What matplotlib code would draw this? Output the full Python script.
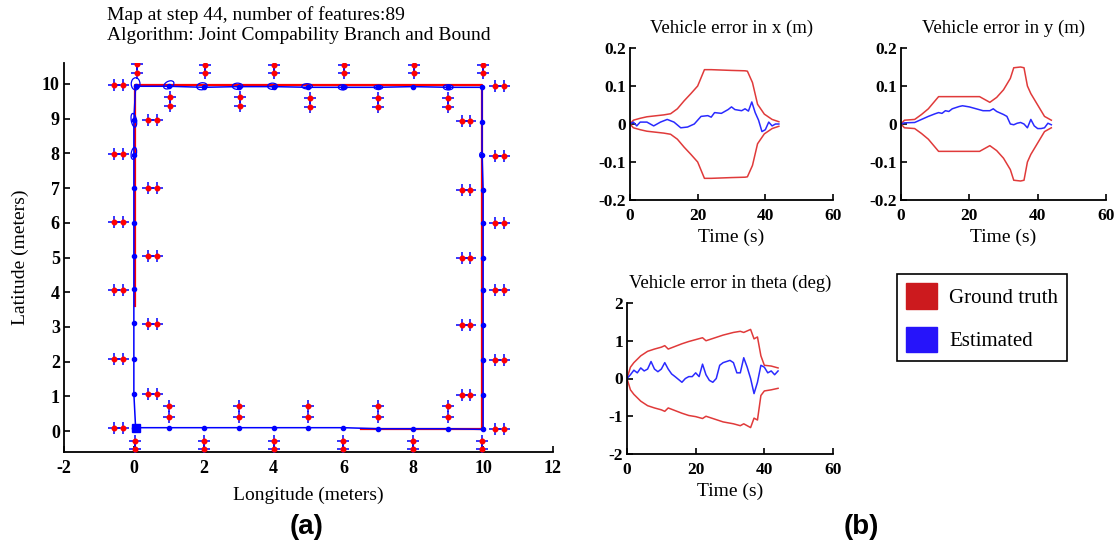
import matplotlib
matplotlib.use("Agg")
import matplotlib.pyplot as plt
from matplotlib.patches import Ellipse, Patch

plt.rcParams["font.family"] = ["Liberation Serif", "DejaVu Serif"]
plt.rcParams["axes.unicode_minus"] = False

RED = "#e03a3a"
BLUE = "#2a2aff"

# vehicle poses (estimated path)
pose_x = [0, 1, 2, 3, 4, 5, 6, 7, 8, 9, 10,
          10, 10, 10, 10, 10, 10, 10, 9.97, 9.97, 9.97,
          9, 8, 7, 6, 5, 4, 3, 2, 1, 0.05,
          0, 0, 0, 0, 0, 0, 0, 0, 0, 0.05]
pose_y = [0.1, 0.1, 0.1, 0.1, 0.1, 0.1, 0.1, 0.07, 0.07, 0.07, 0.05,
          1.05, 2.05, 3.05, 4.05, 5.0, 6.0, 6.95, 7.95, 8.9, 9.9,
          9.9, 9.92, 9.9, 9.9, 9.9, 9.92, 9.92, 9.9, 9.93, 9.93,
          8.95, 7.95, 7.0, 6.0, 5.05, 4.08, 3.1, 2.08, 1.08, 0.1]

# ground-truth trail
true_x = [6.5, 9.98, 9.98, 0.02, 0.02]
true_y = [0.07, 0.07, 9.97, 9.97, 3.6]

# landmarks
lm_x = [0.08, 0.08, 2.05, 2.05, 4.0, 4.0, 6.03, 6.03, 8.03, 8.03, 10.0, 10.0,
        1.03, 1.03, 3.03, 3.03, 5.05, 5.05, 7.0, 7.0, 9.0, 9.0,
        -0.57, -0.3, -0.57, -0.3, -0.57, -0.3, -0.57, -0.3, -0.57, -0.3, -0.57, -0.3,
        0.4, 0.65, 0.4, 0.65, 0.4, 0.65, 0.4, 0.65, 0.4, 0.65,
        9.4, 9.62, 9.4, 9.62, 9.4, 9.62, 9.4, 9.62, 9.4, 9.62,
        10.33, 10.6, 10.33, 10.6, 10.33, 10.6, 10.33, 10.6, 10.33, 10.6, 10.33, 10.6,
        1.0, 1.0, 3.0, 3.0, 5.0, 5.0, 7.0, 7.0, 9.0, 9.0,
        0.02, 0.02, 2.0, 2.0, 4.0, 4.0, 6.0, 6.0, 8.0, 8.0, 9.98, 9.98]
lm_y = [10.57, 10.32, 10.55, 10.3, 10.55, 10.3, 10.55, 10.3, 10.55, 10.3, 10.55, 10.3,
        9.62, 9.35, 9.62, 9.35, 9.6, 9.32, 9.6, 9.32, 9.6, 9.32,
        9.98, 9.98, 7.98, 7.98, 6.02, 6.02, 4.05, 4.05, 2.08, 2.08, 0.1, 0.1,
        8.95, 8.95, 7.0, 7.0, 5.05, 5.05, 3.08, 3.08, 1.08, 1.08,
        8.92, 8.92, 6.95, 6.95, 5.0, 5.0, 3.05, 3.05, 1.05, 1.05,
        9.95, 9.95, 7.92, 7.92, 5.98, 5.98, 4.05, 4.05, 2.05, 2.05, 0.05, 0.05,
        0.72, 0.42, 0.72, 0.42, 0.72, 0.42, 0.72, 0.42, 0.72, 0.42,
        -0.27, -0.5, -0.27, -0.5, -0.27, -0.5, -0.27, -0.5, -0.27, -0.5, -0.27, -0.5]

# pose covariance ellipses (x, y, width, height, angle)
ell_x = [0.05, 1.0, 1.95, 2.97, 3.97, 4.96, 5.98, 7.0, 9.0, 0.0, 0.0, 9.95]
ell_y = [10.0, 9.97, 9.93, 9.93, 9.93, 9.93, 9.9, 9.9, 9.9, 8.95, 8.0, 7.95]
ell_w = [0.25, 0.32, 0.3, 0.3, 0.28, 0.3, 0.25, 0.25, 0.28, 0.15, 0.15, 0.1]
ell_h = [0.35, 0.2, 0.2, 0.18, 0.18, 0.15, 0.15, 0.12, 0.15, 0.4, 0.35, 0.15]
ell_a = [0, 30, 10, 0, 0, 0, 0, 0, 0, 10, -10, 0]

# vehicle error in x
tx = [0, 1, 3, 5, 10, 12, 14, 16, 18, 20, 22, 24, 30, 34, 34.7, 36.2, 37.7, 39.7, 42, 44]
bx = [0, 0.01, 0.015, 0.019, 0.024, 0.027, 0.04, 0.061, 0.08, 0.1, 0.143, 0.143, 0.141,
      0.14, 0.139, 0.109, 0.052, 0.026, 0.012, 0.006]
tex = [0, 1, 2, 3, 5, 7, 9, 11, 13, 15, 17, 19, 21, 23, 24, 25, 27, 29, 30, 31, 33, 34,
       35, 36, 37, 38, 39, 40, 41, 42, 43, 44]
ex = [0, 0.005, -0.005, 0.005, 0.005, -0.005, 0.005, 0.012, 0.005, -0.01, -0.008, 0.0,
      0.02, 0.022, 0.018, 0.03, 0.028, 0.038, 0.045, 0.038, 0.035, 0.04, 0.034, 0.058,
      0.03, 0.01, -0.02, -0.015, 0.005, -0.005, 0.0, 0.0]

# vehicle error in y
ty = [0, 1, 4, 6, 8, 11, 23, 26, 28, 30, 32, 33, 35, 36, 37, 38, 40, 42, 44]
by = [0, 0.01, 0.012, 0.025, 0.04, 0.072, 0.072, 0.057, 0.07, 0.09, 0.12, 0.148,
      0.15, 0.148, 0.1, 0.08, 0.05, 0.02, 0.01]
tey = [0, 1, 4, 6, 8, 10, 11, 12, 13, 14, 15, 17, 18, 20, 22, 24, 26, 27, 28, 30, 31,
       32, 33, 34, 35, 36, 37, 38, 39, 40, 41, 42, 43, 44]
ey = [0, 0.003, 0.004, 0.012, 0.02, 0.027, 0.03, 0.028, 0.035, 0.033, 0.04, 0.046,
      0.048, 0.045, 0.04, 0.035, 0.035, 0.04, 0.033, 0.025, 0.02, 0.0, -0.002, 0.002,
      0.004, 0.0, -0.01, 0.012, -0.005, -0.012, -0.012, -0.01, 0.002, -0.002]

# vehicle error in theta
tt = [0, 1, 2, 4, 6, 8, 10, 11, 12, 14, 16, 18, 20, 22, 23, 25, 28, 31, 33, 34, 36,
      37, 38, 39, 40, 42, 44]
bt_hi = [0, 0.3, 0.42, 0.6, 0.72, 0.78, 0.83, 0.87, 0.78, 0.85, 0.92, 0.98, 1.03, 1.08,
         1.0, 1.06, 1.15, 1.22, 1.25, 1.22, 1.3, 1.05, 1.1, 0.6, 0.35, 0.33, 0.28]
bt_lo = [0, -0.3, -0.42, -0.6, -0.72, -0.78, -0.83, -0.87, -0.78, -0.85, -0.92, -0.98,
         -1.01, -1.06, -1.0, -1.06, -1.15, -1.2, -1.25, -1.2, -1.3, -1.05, -1.1, -0.45,
         -0.33, -0.3, -0.26]
tet = [0, 1, 2, 3, 4, 5, 6, 7, 8, 9, 10, 11, 12, 13, 14, 16, 17, 18, 19, 20, 21, 22, 23,
       24, 25, 26, 27, 28, 30, 31, 32, 33, 34, 35, 36, 37, 38, 39, 40, 41, 42, 43, 44]
et = [0, 0.1, 0.22, 0.15, 0.28, 0.2, 0.25, 0.45, 0.25, 0.18, 0.25, 0.42, 0.25, 0.12,
      0.05, -0.1, 0.0, 0.05, 0.05, 0.15, 0.05, 0.38, 0.1, -0.05, -0.1, 0.0, 0.35, 0.42,
      0.48, 0.42, 0.15, 0.15, 0.55, 0.3, 0.0, -0.4, -0.1, 0.35, 0.3, 0.15, 0.2, 0.1, 0.2]

W, H = 1120, 546
fig = plt.figure(figsize=(W / 100, H / 100), dpi=100)


def style(ax, size):
    for s in ("top", "right"):
        ax.spines[s].set_visible(False)
    for s in ("left", "bottom"):
        ax.spines[s].set_linewidth(1.3)
    ax.tick_params(direction="in", length=4, width=1.2, labelsize=size)
    ax.tick_params(axis="x", pad=6)
    ax.tick_params(axis="y", pad=3)
    for lab in ax.get_xticklabels() + ax.get_yticklabels():
        lab.set_fontweight("bold")


# map
ax = fig.add_axes([64 / W, 1 - 452 / H, 489 / W, 389 / H])
ax.plot(true_x, true_y, color="red", lw=1.6, zorder=2)
ax.plot(pose_x, pose_y, color="blue", lw=1.1, marker="o", ms=3, zorder=3)
ax.plot(pose_x[-1], pose_y[-1], "s", color="blue", ms=6, zorder=4)
for x, y, w, h, a in zip(ell_x, ell_y, ell_w, ell_h, ell_a):
    ax.add_patch(Ellipse((x, y), w, h, angle=a, fill=False, ec="blue", lw=0.9, zorder=4))
ax.plot(lm_x, lm_y, "+", color="blue", ms=9, mew=1.1, zorder=5)
ax.plot(lm_x, lm_y, "o", color="red", ms=3.3, zorder=6)
ax.set_xlim(-2, 12)
ax.set_ylim(-0.6, 10.6)
ax.set_xticks(range(-2, 13, 2))
ax.set_yticks(range(0, 11))
style(ax, 13)
ax.set_xlabel("Longitude (meters)", fontsize=14, labelpad=7)
ax.set_ylabel("Latitude (meters)", fontsize=14, labelpad=9)
fig.text(107 / W, 1 - 6 / H, "Map at step 44, number of features:89\n"
         "Algorithm: Joint Compability Branch and Bound",
         fontsize=14, ha="left", va="top", linespacing=1.25)
fig.text(307 / W, 1 - 527 / H, "(a)", fontsize=20, fontweight="bold",
         family="Liberation Sans", ha="center", va="center")


def err_panel(rect, t_b, hi, lo, t_e, e, ylim, yticks, title):
    a = fig.add_axes(rect)
    a.plot(t_b, hi, color=RED, lw=1.1)
    a.plot(t_b, lo, color=RED, lw=1.1)
    a.plot(t_e, e, color=BLUE, lw=1.1)
    a.set_xlim(0, 60)
    a.set_ylim(*ylim)
    a.set_xticks([0, 20, 40, 60])
    a.set_yticks(yticks)
    a.set_yticklabels([f"{v:g}" for v in yticks])
    style(a, 12.5)
    a.set_title(title, fontsize=13.5, pad=11)
    a.set_xlabel("Time (s)", fontsize=14, labelpad=3)
    return a


err_panel([630 / W, 1 - 200 / H, 203 / W, 152 / H], tx, bx, [-v for v in bx], tex, ex,
          (-0.2, 0.2), [-0.2, -0.1, 0, 0.1, 0.2], "Vehicle error in x (m)")
err_panel([901 / W, 1 - 200 / H, 205 / W, 152 / H], ty, by, [-v for v in by], tey, ey,
          (-0.2, 0.2), [-0.2, -0.1, 0, 0.1, 0.2], "Vehicle error in y (m)")
err_panel([627 / W, 1 - 454 / H, 206 / W, 151 / H], tt, bt_hi, bt_lo, tet, et,
          (-2, 2), [-2, -1, 0, 1, 2], "Vehicle error in theta (deg)")

handles = [Patch(fc="#cc1a1e", ec="#cc1a1e"), Patch(fc="#2614fa", ec="#2614fa")]
leg = fig.legend(handles, ["Ground truth", "Estimated"], loc="upper left",
                 bbox_to_anchor=(897 / W, 1 - 274 / H), borderaxespad=0,
                 fontsize=15, handlelength=1.45, handleheight=1.5,
                 handletextpad=0.6, labelspacing=0.85, borderpad=0.45,
                 fancybox=False, framealpha=1)
leg.get_frame().set_edgecolor("black")
leg.get_frame().set_linewidth(1.2)
fig.text(861 / W, 1 - 527 / H, "(b)", fontsize=20, fontweight="bold",
         family="Liberation Sans", ha="center", va="center")

fig.savefig("out.png", dpi=100)
